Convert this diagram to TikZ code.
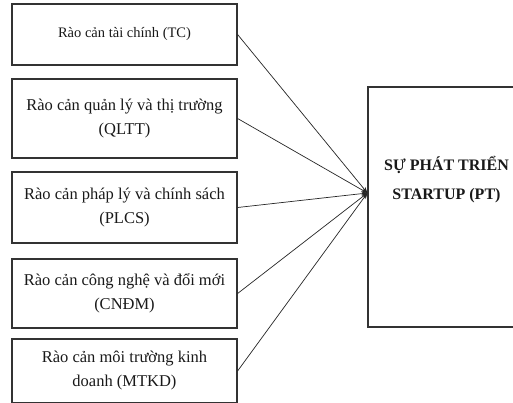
\documentclass[tikz,border=0pt]{standalone}
\usepackage{fontspec}
\setmainfont{Liberation Serif}
\usetikzlibrary{arrows.meta}
\begin{document}
\begin{tikzpicture}[x=1pt,y=-1pt,
  box/.style={draw=black!80, line width=1.2pt, minimum width=225pt, inner sep=0pt,
    align=center, text=black!90, font=\fontsize{16.5}{24}\selectfont},
  link/.style={draw=black!85, line width=0.7pt, -{Stealth[length=6pt,width=4.5pt]}}]
\fill[white] (0,0) rectangle (513,403);
\useasboundingbox (0,0) rectangle (513,403);
\node[box, minimum height=61pt, font=\fontsize{14.5}{20}\selectfont] (tc) at (124.5,34.5) {Rào cản tài chính (TC)};
\node[box, minimum height=79pt] (qltt) at (124.5,118.5) {Rào cản quản lý và thị trường\\(QLTT)};
\node[box, minimum height=71pt] (plcs) at (124.5,207.5) {Rào cản pháp lý và chính sách\\(PLCS)};
\node[box, minimum height=69pt] (cndm) at (124.5,293.5) {Rào cản công nghệ và đổi mới\\(CNĐM)};
\node[box, minimum height=64pt] (mtkd) at (124.5,371) {Rào cản môi trường kinh\\doanh (MTKD)};
\node[draw=black!80, line width=1.2pt, minimum width=157pt, minimum height=240pt, inner sep=0pt] (pt) at (446.5,207) {};
\node[font=\bfseries\fontsize{16}{29}\selectfont, align=center, text=black!90, inner sep=0pt] (ptl) at (446.5,180) {SỰ PHÁT TRIỂN\\STARTUP (PT)};
\coordinate (tgt) at ([yshift=14pt]pt.west);
\draw[link] (tc.east) -- (tgt);
\draw[link] (qltt.east) -- (tgt);
\draw[link] (plcs.east) -- (tgt);
\draw[link] (cndm.east) -- (tgt);
\draw[link] (mtkd.east) -- (tgt);
\end{tikzpicture}
\end{document}
